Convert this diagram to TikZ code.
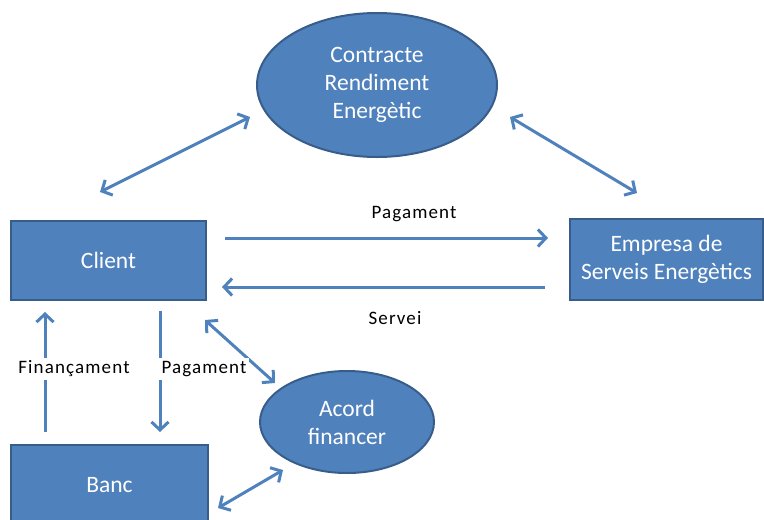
\documentclass[tikz,border=0pt]{standalone}
\usepackage{fontspec}
\setmainfont{Carlito}
\newfontfamily\labelfont[LetterSpace=6]{Carlito}
\usepackage{xcolor}
\usetikzlibrary{shapes.geometric}
\usetikzlibrary{arrows.meta}
\pgfdeclarelayer{edgelayer}
\pgfdeclarelayer{nodelayer}
\pgfsetlayers{edgelayer,nodelayer,main}
\definecolor{OfficeBlue}{HTML}{4F81BD}
\definecolor{OfficeEdge}{HTML}{385D8A}
\tikzstyle{none}=[inner sep=0pt]
\tikzstyle{box}=[rectangle,fill=OfficeBlue,draw=OfficeEdge,line width=2pt,text=white,align=center,font=\fontsize{23.5}{28}\selectfont]
\tikzstyle{oval}=[ellipse,fill=OfficeBlue,draw=OfficeEdge,line width=2pt,text=white,align=center,inner sep=0pt,font=\fontsize{23.5}{28}\selectfont]
\tikzstyle{lbl}=[fill=white,inner sep=3pt,text=black,font=\labelfont\fontsize{19}{22}\selectfont]
\tikzstyle{simple}=[-{Straight Barb[length=8pt,width=17pt]},draw=OfficeBlue,line width=3pt]
\tikzstyle{twoway}=[{Straight Barb[length=8pt,width=17pt]}-{Straight Barb[length=8pt,width=17pt]},draw=OfficeBlue,line width=3pt]

\begin{document}
\begin{tikzpicture}[x=1pt,y=-1pt]
	\useasboundingbox (0,0) rectangle (764,520);
	\begin{pgfonlayer}{nodelayer}
		\node [style=oval,minimum width=240,minimum height=144] (0) at (377, 85) {Contracte\\Rendiment\\Energètic};
		\node [style=box,minimum width=195,minimum height=79] (1) at (108.5, 260.5) {Client};
		\node [style=box,minimum width=193,minimum height=81] (2) at (666.5, 259.5) {Empresa de\\Serveis Energètics};
		\node [style=box,minimum width=197,minimum height=80] (3) at (109.5, 485) {Banc};
		\node [style=oval,minimum width=174,minimum height=102] (4) at (347, 422) {Acord\\financer};
		\node [style=lbl] (5) at (414, 214) {Pagament};
		\node [style=lbl] (6) at (395, 318) {Servei};
		\node [style=lbl] (7) at (74, 369) {Finançament};
		\node [style=lbl] (8) at (204, 369) {Pagament};
		\node [style=none] (9) at (100, 192) {};
		\node [style=none] (10) at (250, 117) {};
		\node [style=none] (11) at (510, 117) {};
		\node [style=none] (12) at (637, 193) {};
		\node [style=none] (13) at (225, 238) {};
		\node [style=none] (14) at (548, 238) {};
		\node [style=none] (15) at (545, 287) {};
		\node [style=none] (16) at (222, 287) {};
		\node [style=none] (17) at (45, 432) {};
		\node [style=none] (18) at (45, 312) {};
		\node [style=none] (19) at (160, 311) {};
		\node [style=none] (20) at (160, 432) {};
		\node [style=none] (21) at (205, 320) {};
		\node [style=none] (22) at (275, 383) {};
		\node [style=none] (23) at (218, 508) {};
		\node [style=none] (24) at (283, 470) {};
	\end{pgfonlayer}
	\begin{pgfonlayer}{edgelayer}
		\draw [style=twoway] (9.center) to (10.center);
		\draw [style=twoway] (11.center) to (12.center);
		\draw [style=simple] (13.center) to (14.center);
		\draw [style=simple] (15.center) to (16.center);
		\draw [style=simple] (17.center) to (18.center);
		\draw [style=simple] (19.center) to (20.center);
		\draw [style=twoway] (21.center) to (22.center);
		\draw [style=twoway] (23.center) to (24.center);
	\end{pgfonlayer}
\end{tikzpicture}
\end{document}
